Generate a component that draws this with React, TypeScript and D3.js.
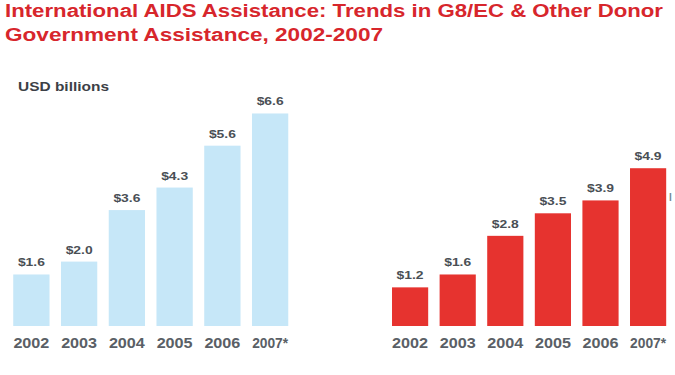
import React from "react";
import * as d3 from "d3";

const years = ["2002", "2003", "2004", "2005", "2006", "2007*"];
const g8Values = [1.6, 2.0, 3.6, 4.3, 5.6, 6.6];
const otherValues = [1.2, 1.6, 2.8, 3.5, 3.9, 4.9];
const titleLines = [
  "International AIDS Assistance: Trends in G8/EC & Other Donor",
  "Government Assistance, 2002-2007",
];
const unitLabel = "USD billions";
const edgeMark = "l";

const W = 675;
const H = 375;
const y = d3.scaleLinear().domain([0, 7]).range([326, 326 - 7 * 32.2]);

function Panel({ values, color, x0, x1 }: { values: number[]; color: string; x0: number; x1: number }) {
  const x = d3.scaleBand<string>().domain(years).range([x0, x1]).paddingInner(0.24).paddingOuter(0.12);
  return (
    <g>
      {values.map((v, i) => {
        const yr = years[i];
        const bx = x(yr)!;
        const bw = x.bandwidth();
        const cx = bx + bw / 2;
        return (
          <g key={yr}>
            <rect x={bx} y={y(v)} width={bw} height={y(0) - y(v)} fill={color} />
            <text
              x={cx}
              y={y(v) - 8}
              textAnchor="middle"
              fontSize={11}
              fontWeight="bold"
              fill="#4a4f55"
              textLength={27}
              lengthAdjust="spacingAndGlyphs"
            >
              {"$" + v.toFixed(1)}
            </text>
            <text
              x={cx}
              y={348}
              textAnchor="middle"
              fontSize={14}
              fontWeight={600}
              fill="#5a5f66"
              textLength={36}
              lengthAdjust="spacingAndGlyphs"
            >
              {yr}
            </text>
          </g>
        );
      })}
    </g>
  );
}

export default function App() {
  return (
    <svg
      width={W}
      height={H}
      style={{ position: "absolute", left: 0, top: 0, overflow: "hidden", background: "#fff" }}
      fontFamily="Liberation Sans, Arial, sans-serif"
    >
      <rect width={W} height={H} fill="#fff" />
      <text x={5} y={17} fontSize={18} fontWeight="bold" fill="#d7262c" textLength={658} lengthAdjust="spacingAndGlyphs">
        {titleLines[0]}
      </text>
      <text x={5} y={41} fontSize={18} fontWeight="bold" fill="#d7262c" textLength={378} lengthAdjust="spacingAndGlyphs">
        {titleLines[1]}
      </text>
      <text x={18} y={91} fontSize={13} fontWeight={600} fill="#3c4046" textLength={91} lengthAdjust="spacingAndGlyphs">
        {unitLabel}
      </text>
      <Panel values={g8Values} color="#c6e7f8" x0={7.5} x1={294} />
      <Panel values={otherValues} color="#e6332f" x0={386.3} x1={671.9} />
      <text x={669} y={201} fontSize={10} fontWeight="bold" fill="#6f8791">
        {edgeMark}
      </text>
    </svg>
  );
}
